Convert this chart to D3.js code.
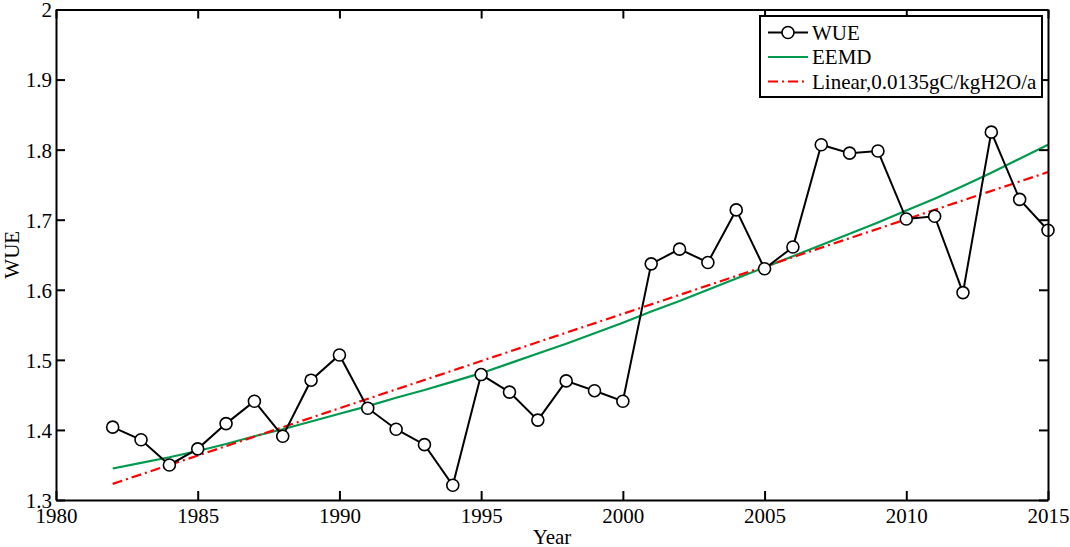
<!DOCTYPE html>
<html>
<head>
<meta charset="utf-8">
<script src="https://cdn.jsdelivr.net/npm/d3@7"></script>
<style>
  body { margin: 0; background: #fff; }
  svg text { font-family: "Liberation Serif", "Times New Roman", serif; fill: #000; }
</style>
</head>
<body>
<div id="chart"></div>
<script>
// Data
const years = d3.range(1982, 2016);
const wueValues = [
    1.404, 1.386, 1.350, 1.373, 1.409, 1.441, 1.391, 1.471, 1.507, 1.431,
    1.401, 1.379, 1.321, 1.479, 1.454, 1.414, 1.470, 1.456, 1.441, 1.637,
    1.658, 1.639, 1.714, 1.630, 1.661, 1.807, 1.795, 1.798, 1.701, 1.705,
    1.596, 1.825, 1.729, 1.685
];
const eemdValues = [
    1.345, 1.353, 1.361, 1.370, 1.380, 1.391, 1.401, 1.412, 1.423, 1.434,
    1.446, 1.457, 1.469, 1.481, 1.495, 1.509, 1.523, 1.538, 1.553, 1.569,
    1.584, 1.600, 1.616, 1.632, 1.648, 1.664, 1.680, 1.696, 1.713, 1.730,
    1.748, 1.767, 1.787, 1.807
];
const linearYears = [1982, 2015];
const linearValues = [1.323, 1.768];
const xTicks = [1980, 1985, 1990, 1995, 2000, 2005, 2010, 2015];
const yTicks = [1.3, 1.4, 1.5, 1.6, 1.7, 1.8, 1.9, 2];
const legendLabels = ['WUE', 'EEMD', 'Linear,0.0135gC/kgH2O/a'];

// Dimensions
let dimensions = {
    width: 1070,
    height: 547,
    margin: { top: 9.5, bottom: 47, left: 56, right: 22 },
};
dimensions.ctrWidth = dimensions.width - dimensions.margin.left - dimensions.margin.right;
dimensions.ctrHeight = dimensions.height - dimensions.margin.top - dimensions.margin.bottom;

const serif = '"Liberation Serif", "Times New Roman", serif';
const fontSize = 21;
const tickLen = 9;

const svg = d3.select('#chart')
    .append('svg')
    .attr('width', dimensions.width)
    .attr('height', dimensions.height)
    .attr('font-family', serif);

const ctr = svg.append('g')
    .attr('transform', `translate(${dimensions.margin.left}, ${dimensions.margin.top})`);

// Scales
const xScale = d3.scaleLinear().domain([1980, 2015]).range([0, dimensions.ctrWidth]);
const yScale = d3.scaleLinear().domain([1.3, 2]).range([dimensions.ctrHeight, 0]);

// Lines
const eemdLine = d3.line().x((d, i) => xScale(years[i])).y(d => yScale(d));
ctr.append('path')
    .datum(eemdValues)
    .attr('d', eemdLine)
    .attr('fill', 'none')
    .attr('stroke', '#009a4e')
    .attr('stroke-width', 2.2);

const linLine = d3.line().x((d, i) => xScale(linearYears[i])).y(d => yScale(d));
ctr.append('path')
    .datum(linearValues)
    .attr('d', linLine)
    .attr('fill', 'none')
    .attr('stroke', '#ff0000')
    .attr('stroke-width', 2.2)
    .attr('stroke-dasharray', '10 4 2 4');

const wueLine = d3.line().x((d, i) => xScale(years[i])).y(d => yScale(d));
ctr.append('path')
    .datum(wueValues)
    .attr('d', wueLine)
    .attr('fill', 'none')
    .attr('stroke', '#000')
    .attr('stroke-width', 2);

ctr.selectAll('circle.wue')
    .data(wueValues)
    .join('circle')
    .attr('class', 'wue')
    .attr('cx', (d, i) => xScale(years[i]))
    .attr('cy', d => yScale(d))
    .attr('r', 6)
    .attr('fill', '#fff')
    .attr('stroke', '#000')
    .attr('stroke-width', 1.6);

// Axes (ticks inward, box on all sides)
const xAxis = d3.axisBottom(xScale).tickValues(xTicks).tickFormat(d3.format('d'))
    .tickSizeInner(-tickLen).tickSizeOuter(0).tickPadding(8);
const yAxis = d3.axisLeft(yScale).tickValues(yTicks).tickFormat(d => d === 2 ? '2' : d3.format('.1f')(d))
    .tickSizeInner(-tickLen).tickSizeOuter(0).tickPadding(4);
const xAxisTop = d3.axisTop(xScale).tickValues(xTicks).tickFormat('')
    .tickSizeInner(-tickLen).tickSizeOuter(0);
const yAxisRight = d3.axisRight(yScale).tickValues(yTicks).tickFormat('')
    .tickSizeInner(-tickLen).tickSizeOuter(0);

const axes = [
    ctr.append('g').attr('transform', `translate(0, ${dimensions.ctrHeight})`).call(xAxis),
    ctr.append('g').call(yAxis),
    ctr.append('g').call(xAxisTop),
    ctr.append('g').attr('transform', `translate(${dimensions.ctrWidth}, 0)`).call(yAxisRight),
];
axes.forEach(g => {
    g.attr('font-family', serif).attr('font-size', fontSize);
    g.select('.domain').attr('stroke', '#000').attr('stroke-width', 2);
    g.selectAll('.tick line').attr('stroke', '#000').attr('stroke-width', 2);
    g.selectAll('.tick text').attr('fill', '#000');
});
axes[1].selectAll('.tick text').attr('dy', '0.35em');

// Axis titles
ctr.append('text')
    .attr('x', dimensions.ctrWidth / 2)
    .attr('y', dimensions.ctrHeight + 44)
    .attr('text-anchor', 'middle')
    .attr('font-size', fontSize)
    .text('Year');

ctr.append('text')
    .attr('transform', `translate(${-dimensions.margin.left + 19}, ${dimensions.ctrHeight / 2}) rotate(-90)`)
    .attr('text-anchor', 'middle')
    .attr('font-size', fontSize)
    .text('WUE');

// Legend
const legend = svg.append('g').attr('transform', 'translate(760, 16)');
legend.append('rect')
    .attr('width', 282)
    .attr('height', 81)
    .attr('fill', '#fff')
    .attr('stroke', '#000')
    .attr('stroke-width', 2);

const legendStyles = [
    { stroke: '#000', dash: null, marker: true },
    { stroke: '#009a4e', dash: null, marker: false },
    { stroke: '#ff0000', dash: '10 4 2 4', marker: false },
];
const rows = legend.selectAll('g.row')
    .data(legendLabels)
    .join('g')
    .attr('class', 'row')
    .attr('transform', (d, i) => `translate(0, ${16.5 + i * 24.5})`);

rows.append('line')
    .attr('x1', 8).attr('x2', 48)
    .attr('stroke', (d, i) => legendStyles[i].stroke)
    .attr('stroke-width', 2)
    .attr('stroke-dasharray', (d, i) => legendStyles[i].dash);

rows.filter((d, i) => legendStyles[i].marker)
    .append('circle')
    .attr('cx', 28).attr('r', 6)
    .attr('fill', '#fff').attr('stroke', '#000').attr('stroke-width', 1.6);

rows.append('text')
    .attr('x', 52)
    .attr('dy', '0.35em')
    .attr('font-size', fontSize)
    .text(d => d);
</script>
</body>
</html>
